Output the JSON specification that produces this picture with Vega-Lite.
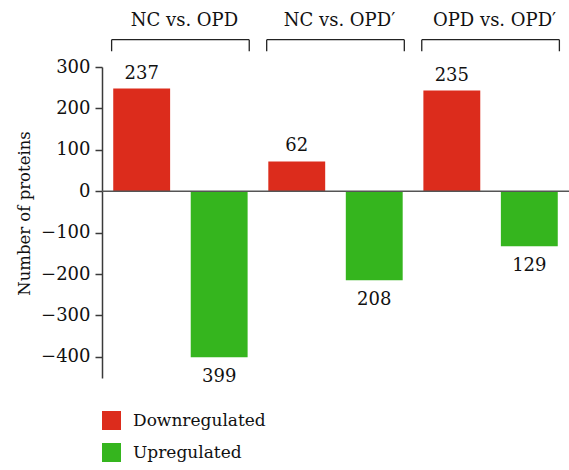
{
  "$schema": "https://vega.github.io/schema/vega-lite/v6.json",
  "width": 467,
  "height": 311,
  "autosize": {"type": "none"},
  "padding": {"left": 102, "top": 67, "right": 0, "bottom": 92},
  "config": {
    "font": "DejaVu Serif",
    "view": {"stroke": null}
  },
  "datasets": {
    "bars": [
      {"comparison": "NC vs. OPD", "type": "Downregulated", "value": 248, "label": "237"},
      {"comparison": "NC vs. OPD", "type": "Upregulated", "value": -401, "label": "399"},
      {"comparison": "NC vs. OPD′", "type": "Downregulated", "value": 72, "label": "62"},
      {"comparison": "NC vs. OPD′", "type": "Upregulated", "value": -215, "label": "208"},
      {"comparison": "OPD vs. OPD′", "type": "Downregulated", "value": 243, "label": "235"},
      {"comparison": "OPD vs. OPD′", "type": "Upregulated", "value": -133, "label": "129"}
    ],
    "groups": [
      {"comparison": "NC vs. OPD"},
      {"comparison": "NC vs. OPD′"},
      {"comparison": "OPD vs. OPD′"}
    ]
  },
  "layer": [
    {
      "data": {"name": "bars"},
      "mark": {"type": "bar"},
      "encoding": {
        "x": {"field": "comparison", "type": "nominal", "scale": {"paddingInner": 0.1125, "paddingOuter": 0.062}, "axis": null},
        "xOffset": {"field": "type", "type": "nominal", "scale": {"paddingInner": 0.266, "paddingOuter": 0.021}},
        "y": {
          "field": "value", "type": "quantitative",
          "scale": {"domain": [-451, 300], "nice": false, "zero": false},
          "axis": {
            "title": "Number of proteins",
            "values": [-400, -300, -200, -100, 0, 100, 200, 300],
            "grid": false,
            "tickSize": 7, "tickWidth": 1.5, "tickColor": "#3a3a3a",
            "domainColor": "#3a3a3a", "domainWidth": 1.5,
            "labelFontSize": 18, "labelColor": "#111", "labelPadding": 5,
            "titleFontSize": 16.5, "titleFontWeight": "normal", "titleColor": "#111",
            "titleX": -70, "titleY": 146
          }
        },
        "color": {
          "field": "type", "type": "nominal",
          "scale": {"domain": ["Downregulated", "Upregulated"], "range": ["#DC2C1C", "#35B51E"]},
          "legend": {
            "title": null, "orient": "none", "legendX": 0, "legendY": 344,
            "symbolType": "square", "symbolSize": 361, "symbolStrokeWidth": 0, "symbolOpacity": 1,
            "labelFontSize": 17, "labelColor": "#111", "labelOffset": 12, "rowPadding": 13, "padding": 0
          }
        }
      }
    },
    {
      "data": {"values": [{}]},
      "mark": {"type": "rule", "color": "#555", "strokeWidth": 1.5},
      "encoding": {"y": {"datum": 0, "type": "quantitative"}}
    },
    {
      "data": {"name": "bars"},
      "transform": [{"filter": "datum.value > 0"}],
      "mark": {"type": "text", "baseline": "alphabetic", "dy": -10, "fontSize": 18, "color": "#111"},
      "encoding": {
        "x": {"field": "comparison", "type": "nominal"},
        "xOffset": {"field": "type", "type": "nominal"},
        "y": {"field": "value", "type": "quantitative"},
        "text": {"field": "label"}
      }
    },
    {
      "data": {"name": "bars"},
      "transform": [{"filter": "datum.value < 0"}],
      "mark": {"type": "text", "baseline": "top", "dy": 11, "fontSize": 18, "color": "#111"},
      "encoding": {
        "x": {"field": "comparison", "type": "nominal"},
        "xOffset": {"field": "type", "type": "nominal"},
        "y": {"field": "value", "type": "quantitative"},
        "text": {"field": "label"}
      }
    },
    {
      "data": {"name": "groups"},
      "mark": {"type": "rule", "color": "#222", "strokeWidth": 1.3},
      "encoding": {
        "x": {"field": "comparison", "type": "nominal", "bandPosition": 0},
        "x2": {"field": "comparison", "bandPosition": 1},
        "y": {"datum": 366, "type": "quantitative"}
      }
    },
    {
      "data": {"name": "groups"},
      "mark": {"type": "rule", "color": "#222", "strokeWidth": 1.3},
      "encoding": {
        "x": {"field": "comparison", "type": "nominal", "bandPosition": 0},
        "y": {"datum": 366, "type": "quantitative"},
        "y2": {"datum": 338}
      }
    },
    {
      "data": {"name": "groups"},
      "mark": {"type": "rule", "color": "#222", "strokeWidth": 1.3},
      "encoding": {
        "x": {"field": "comparison", "type": "nominal", "bandPosition": 1},
        "y": {"datum": 366, "type": "quantitative"},
        "y2": {"datum": 338}
      }
    },
    {
      "data": {"name": "groups"},
      "mark": {"type": "text", "baseline": "alphabetic", "fontSize": 18, "dx": 4, "color": "#111"},
      "encoding": {
        "x": {"field": "comparison", "type": "nominal"},
        "y": {"datum": 400, "type": "quantitative"},
        "text": {"field": "comparison"}
      }
    }
  ]
}
